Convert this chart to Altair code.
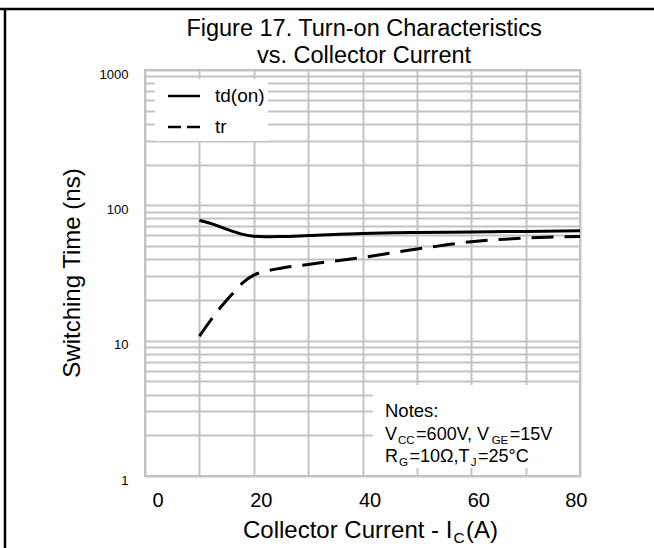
import altair as alt
import pandas as pd

# ---------------- data ----------------
I_TD = [10, 12, 14, 16, 18, 20, 22, 25, 30, 40, 50, 60, 70, 80]
TD_ON = [77.5, 73.5, 69, 64.5, 61, 59, 58.5, 58.8, 59.8, 62, 63, 63.5, 64.2, 65]
I_TR = [10, 12, 14, 16, 18, 20, 22, 25, 30, 40, 50, 60, 70, 80]
TR = [10.8, 14, 17.8, 22, 26.8, 30.5, 32.5, 34.3, 36.6, 41.2, 47.5, 53.8, 57.3, 58.8]

X_GRID = [0, 10, 20, 30, 40, 50, 60, 70, 80]
Y_GRID = [1, 2, 3, 4, 5, 6, 7, 8, 9,
          10, 20, 30, 40, 50, 60, 70, 80, 90,
          100, 200, 300, 400, 500, 600, 700, 800, 900, 1000]

TITLE_LINES = ["Figure 17. Turn-on Characteristics", "vs. Collector Current"]
LEGEND_NAMES = ["td(on)", "tr"]
NOTES_HEAD = "Notes:"
NOTES_L1 = [("V", 0), ("CC", 1), ("=600V, V", 0), ("GE", 1), ("=15V", 0)]
NOTES_L2 = [("R", 0), ("G", 1), ("=10Ω,T", 0), ("J", 1), ("=25°C", 0)]
X_TITLE = [("Collector Current - I", 0), ("C", 1), ("(A)", 0)]
Y_TITLE = "Switching Time (ns)"

FONT = "Liberation Sans"
GRID = "#c3c3c3"
W, H = 435, 406

# Arial / Liberation Sans advance widths (em)
AW = {' ': .278, '-': .333, '(': .333, ')': .333, ',': .278, '.': .278, ':': .278,
      '=': .584, '°': .4, 'Ω': .768, 'A': .667, 'C': .722, 'E': .667, 'G': .778,
      'I': .278, 'J': .5, 'N': .722, 'R': .722, 'T': .611, 'V': .667,
      'c': .5, 'e': .556, 'l': .222, 'n': .556, 'o': .556, 'r': .333, 's': .5,
      't': .278, 'u': .556}
for d in "0123456789":
    AW[d] = .556


def text_width(s, size):
    return sum(AW.get(ch, .556) for ch in s) * size


ONE = pd.DataFrame({"k": [0]})


def txt(t, x, y, size, align="left", baseline="alphabetic", angle=0):
    kw = dict(align=align, baseline=baseline, font=FONT, fontSize=size, color="black")
    if angle:
        kw["angle"] = angle
    return alt.Chart(ONE).mark_text(**kw).encode(
        x=alt.value(x), y=alt.value(y), text=alt.value(t))


def rich(parts, x0, y0, size, sub_size, sub_dy):
    out = []
    x = x0
    for s, sub in parts:
        fs = sub_size if sub else size
        if sub:
            x += 1
        out.append(txt(s, x, y0 + (sub_dy if sub else 0), fs))
        x += text_width(s, fs) + (1.5 if sub else 0)
    return out


df_td = pd.DataFrame({"I": I_TD, "t": TD_ON})
df_tr = pd.DataFrame({"I": I_TR, "t": TR})

x_enc = alt.X("I:Q", scale=alt.Scale(domain=[0, 80], nice=False),
              axis=alt.Axis(values=X_GRID, title=None, grid=True, gridColor=GRID, gridWidth=2,
                            ticks=False, tickSize=0, domain=False,
                            labelExpr="datum.value % 20 == 0 ? datum.label : ''",
                            labelFont=FONT, labelFontSize=20, labelColor="black",
                            labelBaseline="middle", labelPadding=24, labelOffset=7,
                            labelOverlap=False))
y_enc = alt.Y("t:Q", scale=alt.Scale(type="log", domain=[1, 1000], nice=False),
              axis=alt.Axis(values=Y_GRID, title=None, grid=True, gridColor=GRID, gridWidth=2,
                            ticks=False, tickSize=0, domain=False, format="d",
                            labelExpr="indexof([1,10,100,1000], datum.value) >= 0 ? datum.label : ''",
                            labelFont=FONT, labelFontSize=13, labelColor="black",
                            labelPadding=17, labelOffset=4, labelOverlap=False))

td_line = alt.Chart(df_td).mark_line(color="black", strokeWidth=3, interpolate="monotone").encode(
    x=x_enc, y=y_enc)
tr_line = alt.Chart(df_tr).mark_line(color="black", strokeWidth=3, interpolate="monotone",
                                     strokeDash=[22, 11]).encode(x=x_enc, y=y_enc)

layers = [td_line, tr_line]

# legend box
layers.append(alt.Chart(ONE).mark_rect(fill="white").encode(
    x=alt.value(10), x2=alt.value(123), y=alt.value(9), y2=alt.value(71)))
layers.append(alt.Chart(ONE).mark_rule(color="black", strokeWidth=2.5).encode(
    x=alt.value(23), x2=alt.value(55), y=alt.value(26)))
layers.append(alt.Chart(ONE).mark_rule(color="black", strokeWidth=2.5, strokeDash=[13, 6]).encode(
    x=alt.value(23), x2=alt.value(55), y=alt.value(57)))
layers.append(txt(LEGEND_NAMES[0], 70, 26, 19, baseline="middle"))
layers.append(txt(LEGEND_NAMES[1], 70, 57, 19, baseline="middle"))

# notes box
layers.append(alt.Chart(ONE).mark_rect(fill="white").encode(
    x=alt.value(228), x2=alt.value(434), y=alt.value(315), y2=alt.value(398)))
layers.append(txt(NOTES_HEAD, 240, 347, 18.5))
layers += rich(NOTES_L1, 240, 370, 18, 11.5, 4)
layers += rich(NOTES_L2, 240, 392, 18, 11.5, 4)

# titles
layers.append(txt(TITLE_LINES[0], 219, -34, 23.5, align="center"))
layers.append(txt(TITLE_LINES[1], 219, -7, 23.5, align="center"))
layers += rich(X_TITLE, 98, 468, 24, 15.5, 5)
layers.append(txt(Y_TITLE, -65, 203, 24, align="center", angle=270))

# outer frame lines
layers.append(alt.Chart(ONE).mark_rule(color="black", strokeWidth=2.5).encode(
    x=alt.value(-145), x2=alt.value(509), y=alt.value(-61)))
layers.append(alt.Chart(ONE).mark_rule(color="black", strokeWidth=2.5).encode(
    x=alt.value(-140), y=alt.value(-61), y2=alt.value(478)))

chart = alt.layer(*layers).properties(
    width=W, height=H,
    autosize=alt.AutoSizeParams(type="none"),
    padding={"left": 145, "top": 70, "right": 74, "bottom": 72},
).configure_view(stroke="#bfbfbf", strokeWidth=2)

chart.save("out.html", embed_options={"renderer": "svg", "actions": False})
